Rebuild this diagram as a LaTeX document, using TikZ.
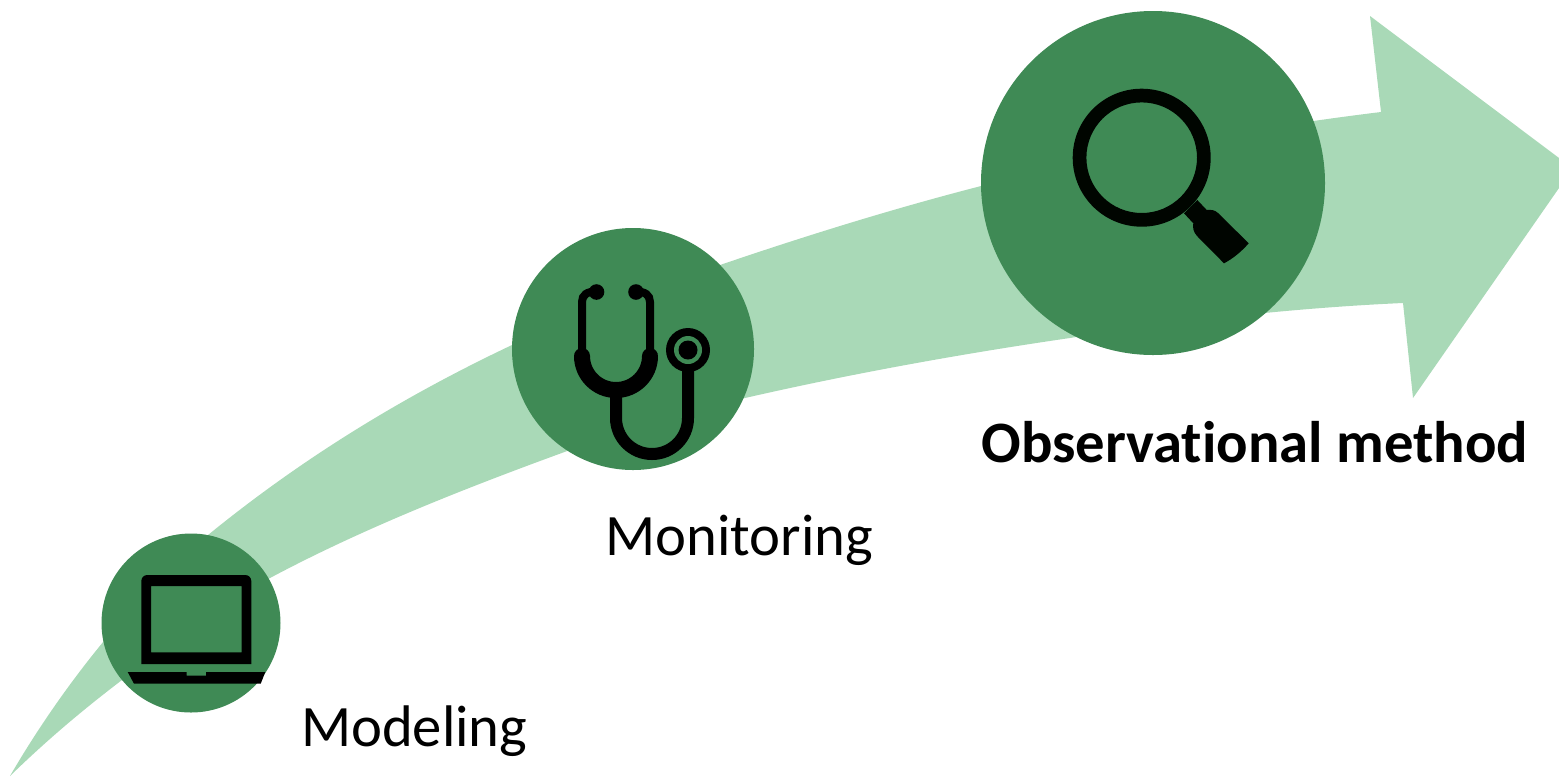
\documentclass[tikz,border=0pt]{standalone}
\usepackage{fontspec}
\setmainfont[Ligatures=NoCommon]{Carlito}
\definecolor{lightg}{HTML}{A9D9B7}
\definecolor{darkg}{HTML}{3F8A55}
\tikzset{
  px/.style={x=0.75pt,y=-0.75pt},
  disc/.style={circle,fill=darkg,draw=none,inner sep=0pt,outer sep=0pt},
  lbl/.style={anchor=base west,inner sep=0pt,outer sep=0pt,font=\fontsize{44}{50}\selectfont,text=black},
  icon/.style={fill=black,draw=none},
  tube/.style={draw=black,fill=none,line cap=butt}
}
\begin{document}
\begin{tikzpicture}[px]
\useasboundingbox (0,0) rectangle (1559,776);
% sweeping arrow
\fill[lightg] (10,776) .. controls (60,690) and (130,600) .. (208,535)
  .. controls (300,460) and (400,398) .. (512,345)
  .. controls (580,313) and (650,288) .. (720,265)
  .. controls (805,236) and (895,208) .. (985,185)
  .. controls (1115,153) and (1250,128) .. (1381,112)
  -- (1370,16) -- (1559,158) -- (1559,188) -- (1413,398) -- (1403,303)
  .. controls (1290,308) and (1170,322) .. (1070,338)
  .. controls (960,354) and (850,374) .. (745,398)
  .. controls (685,412) and (625,430) .. (570,450)
  .. controls (460,490) and (360,530) .. (270,578)
  .. controls (215,608) and (165,645) .. (122,680)
  .. controls (80,712) and (45,742) .. (10,776) -- cycle;
% discs
\node[disc,minimum size=179*0.75pt] (c1) at (191,623) {};
\node[disc,minimum size=242*0.75pt] (c2) at (633,349) {};
\node[disc,minimum size=344*0.75pt] (c3) at (1153,183) {};
% laptop
\fill[icon,even odd rule]
  (141.3,664) -- (141.3,581) arc[start angle=180,end angle=270,radius=6] -- (245.3,575) arc[start angle=270,end angle=360,radius=6] -- (251.3,664) -- cycle
  (151,586) rectangle (241.7,652.3);
\fill[icon] (127.7,672) -- (186.7,672) -- (186.7,675.7) -- (206,675.7) -- (206,672) -- (265.3,672) -- (260.7,683.7) -- (134,683.7) -- cycle;
% stethoscope
\draw[tube,line width=12*0.75pt] (616,392) -- (616,418) arc[start angle=180,end angle=0,radius=36] -- (688,366);
\draw[tube,line width=16*0.75pt,line cap=round] (582,356) arc[start angle=180,end angle=0,radius=34];
\draw[tube,line width=8*0.75pt] (582,352) -- (582,302) .. controls (582,295) and (587,291.5) .. (596,291.5);
\draw[tube,line width=8*0.75pt] (650,352) -- (650,302) .. controls (650,295) and (645,291.5) .. (636,291.5);
\fill[icon] (596.5,292) circle[radius=7.8];
\fill[icon] (636,292) circle[radius=7.8];
\fill[icon] (688,350) circle[radius=22];
\fill[darkg] (688,350) circle[radius=14];
\fill[icon] (688,350) circle[radius=9.5];
% magnifier
\fill[icon,fill=black!98!green,even odd rule] (1141.7,157.7) circle[radius=69] (1141.7,157.7) circle[radius=55.3];
\fill[icon,fill=black!98!green] (1197.3,200) -- (1206.7,210) .. controls (1211,209.5) and (1215,210) .. (1218,213) -- (1248.7,243.3) .. controls (1241,252) and (1233,258.5) .. (1224,263.3) -- (1197,236) .. controls (1193.5,232) and (1192.5,228) .. (1193.3,223.3) -- (1184,213.3) -- cycle;
% labels
\node[lbl] (modeling) at (301,746) {Modeling};
\node[lbl] (monitoring) at (605.5,555) {Monitoring};
\node[lbl,font=\fontsize{44}{50}\selectfont\bfseries] (obs) at (981.5,462) {Observational method};
\end{tikzpicture}
\end{document}
